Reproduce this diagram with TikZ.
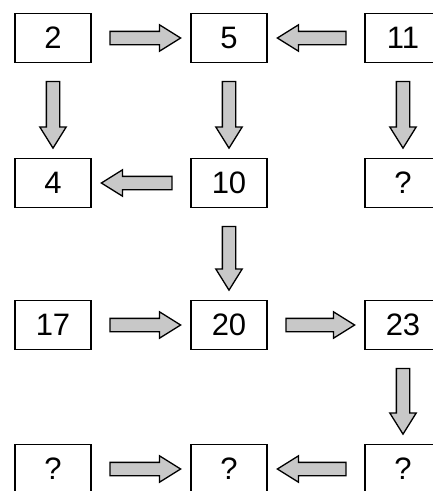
\documentclass[tikz,border=0pt]{standalone}
\usepackage{fontspec}
\setmainfont{Liberation Sans}
\usetikzlibrary{calc,shapes.arrows}
\definecolor{arrowgray}{RGB}{200,200,200}

\tikzset{
  numbox/.style={draw,line width=1.4pt,minimum width=76pt,minimum height=49pt,inner sep=0pt,font=\fontsize{31}{33}\selectfont},
  arrowbody/.style={single arrow,draw,line width=1.3pt,fill=arrowgray,inner xsep=0pt,inner ysep=6pt,single arrow head extend=6.5pt,single arrow tip angle=64},
  blockarr/.style={to path={let \p1=($(\tikztostart)!13pt!(\tikztotarget)$), \p2=($(\tikztotarget)!15pt!(\tikztostart)$), \p3=($(\p2)-(\p1)$), \n1={veclen(\x3,\y3)}, \n2={atan2(\y3,\x3)} in node[arrowbody,minimum height=\n1,rotate=\n2] at ($(\p1)!.5!(\p2)$) {}}}
}

\begin{document}
\begin{tikzpicture}[x=1pt,y=-1pt]
\path[use as bounding box,clip] (0,0) rectangle (433,491);
\foreach \nm/\x/\y/\t in {b2/53/38/2,b5/229/38/5,b11/403/38/11,b4/53/183/4,b10/229/183/10,bqa/403/183/?,b17/53/325/17,b20/229/325/20,b23/403/325/23,bqb/53/469/?,bqc/229/469/?,bqd/403/469/?}{\node[numbox] (\nm) at (\x,\y) {\t};}
\foreach \s/\e in {b2.east/b5.west,b11.west/b5.east,b2.south/b4.north,b5.south/b10.north,b11.south/bqa.north,b10.west/b4.east,b10.south/b20.north,b17.east/b20.west,b20.east/b23.west,b23.south/bqd.north,bqb.east/bqc.west,bqd.west/bqc.east}{\path[blockarr] (\s) to (\e);}
\end{tikzpicture}
\end{document}
